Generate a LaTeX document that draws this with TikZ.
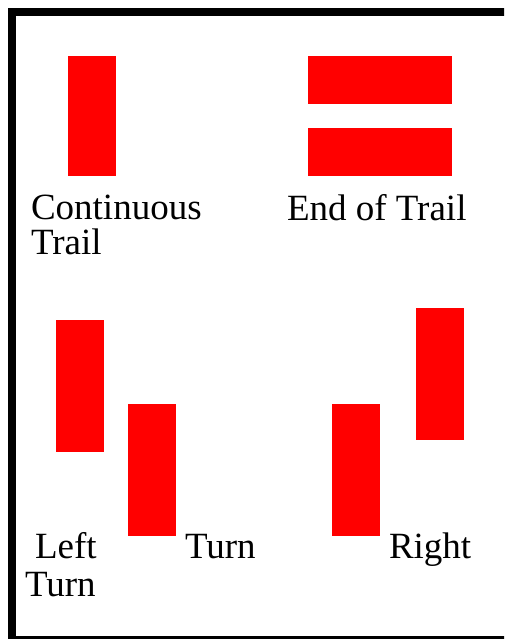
\documentclass[tikz,border=0pt]{standalone}
\usepackage{fontspec}
\setmainfont{Liberation Serif}
\begin{document}
\begin{tikzpicture}[x=1pt,y=-1pt,
  bar/.style={fill=red,draw=none,inner sep=0pt,outer sep=0pt,minimum width=48pt,minimum height=132pt,anchor=north west},
  hbar/.style={fill=red,draw=none,inner sep=0pt,outer sep=0pt,minimum width=144pt,minimum height=48pt,anchor=north west},
  lbl/.style={anchor=base west,inner sep=0pt,outer sep=0pt,font=\fontsize{37}{37}\selectfont}]
\useasboundingbox (0,0) rectangle (504,639);
\clip (0,0) rectangle (504,639);
\fill[white] (0,0) rectangle (504,639);
\draw[line width=8pt] (12,12) rectangle (520,640);
% Continuous trail
\node[bar,minimum height=120pt] (c1) at (68,56) {};
\node[lbl] (tc1) at (31,219) {Continuous};
\node[lbl] (tc2) at (31,254) {Trail};
% End of trail
\node[hbar] (e1) at (308,56) {};
\node[hbar] (e2) at (308,128) {};
\node[lbl] (te) at (287,220) {End of Trail};
% Left turn
\node[bar] (l1) at (56,320) {};
\node[bar] (l2) at (128,404) {};
\node[lbl] (tl1) at (35,558) {Left};
\node[lbl] (tl2) at (25,596) {Turn};
\node[lbl] (tt) at (185,558) {Turn};
% Right turn
\node[bar] (r1) at (332,404) {};
\node[bar] (r2) at (416,308) {};
\node[lbl] (tr) at (389,558) {Right};
\end{tikzpicture}
\end{document}
